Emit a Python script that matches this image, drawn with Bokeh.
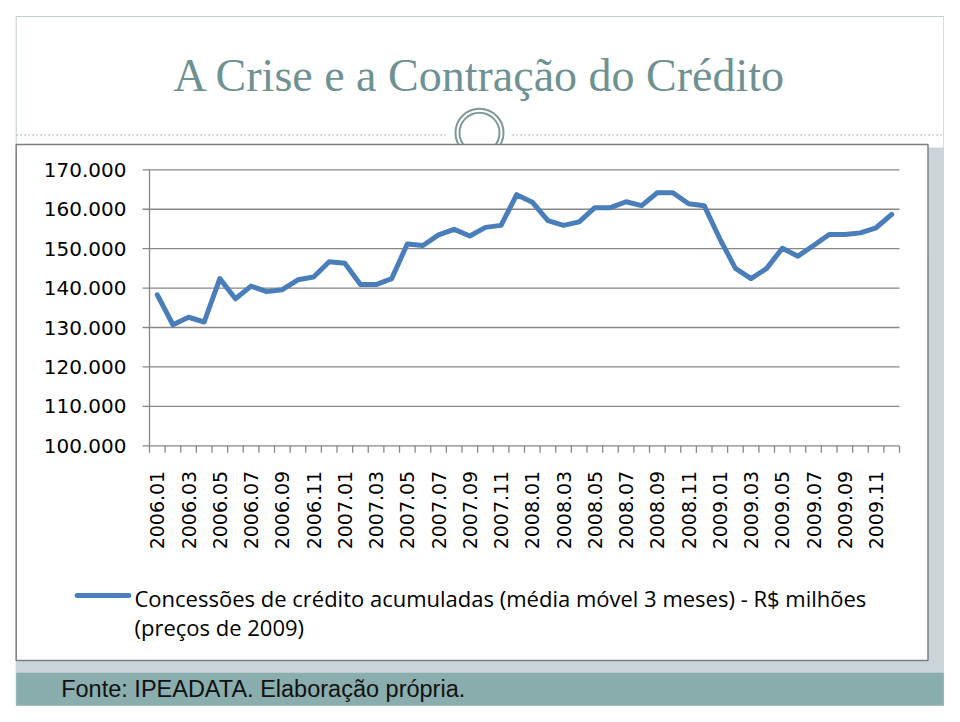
import math
from bokeh.plotting import figure
from bokeh.models import Range1d
from bokeh.core.properties import value
from bokeh.embed import file_html
from bokeh.resources import INLINE

# ---------------- data ----------------
months = [
    "2006.01", "2006.02", "2006.03", "2006.04", "2006.05", "2006.06",
    "2006.07", "2006.08", "2006.09", "2006.10", "2006.11", "2006.12",
    "2007.01", "2007.02", "2007.03", "2007.04", "2007.05", "2007.06",
    "2007.07", "2007.08", "2007.09", "2007.10", "2007.11", "2007.12",
    "2008.01", "2008.02", "2008.03", "2008.04", "2008.05", "2008.06",
    "2008.07", "2008.08", "2008.09", "2008.10", "2008.11", "2008.12",
    "2009.01", "2009.02", "2009.03", "2009.04", "2009.05", "2009.06",
    "2009.07", "2009.08", "2009.09", "2009.10", "2009.11", "2009.12",
]
credit = [
    138300, 130700, 132600, 131400, 142400, 137300,
    140500, 139100, 139600, 142100, 142800, 146700,
    146300, 140900, 140900, 142400, 151200, 150800,
    153500, 154900, 153200, 155400, 155900, 163700,
    161800, 157100, 155900, 156800, 160400, 160400,
    161900, 160900, 164200, 164200, 161400, 160900,
    152500, 145000, 142400, 145000, 150100, 148100,
    150800, 153600, 153600, 154000, 155300, 158700,
]
y_ticks = [100000, 110000, 120000, 130000, 140000, 150000, 160000, 170000]
y_tick_labels = ["100.000", "110.000", "120.000", "130.000",
                 "140.000", "150.000", "160.000", "170.000"]
title_text = "A Crise e a Contração do Crédito"
legend_line_1 = "Concessões de crédito acumuladas   (média móvel 3 meses) - R$ milhões"
legend_line_2 = "(preços de 2009)"
source_text = "Fonte: IPEADATA. Elaboração própria."

# ---------------- layout (canvas pixels) ----------------
W, H = 944, 706
CL, CR, CT, CB = 149, 899, 169.3, 445.3      # plot area of the chart
n = len(months)
ymin, ymax = y_ticks[0], y_ticks[-1]
ppx = (CR - CL) / n
ppy = (CB - CT) / (ymax - ymin)

p = figure(width=W, height=H, output_backend="svg", toolbar_location=None,
           x_axis_location=None, y_axis_location=None,
           x_range=Range1d(-CL / ppx, n + (W - CR) / ppx),
           y_range=Range1d(ymin - (H - CB) / ppy, ymax + CT / ppy),
           min_border=0)
p.min_border_left = p.min_border_right = p.min_border_top = p.min_border_bottom = 0
p.background_fill_color = "white"
p.border_fill_color = "white"
p.outline_line_color = None
for g in p.grid:
    g.visible = False
p.extra_x_ranges = {"px": Range1d(0, W)}
p.extra_y_ranges = {"py": Range1d(H, 0)}
PX = dict(x_range_name="px", y_range_name="py")

GRID = "#878787"
BLUE = "#4A7EBB"
RING = "#7D9A9A"

# ---------------- slide decorations ----------------
p.quad(left=[15.7], right=[943.3], top=[16], bottom=[705],
       fill_color="white", line_color="#C3CFCF", line_width=1, **PX)
p.segment(x0=[15.7, 511.7], x1=[446.7, 943.3], y0=[134.5, 134.5], y1=[134.5, 134.5],
          line_color="#A5B3B3", line_width=1, line_dash="2 2", **PX)
p.scatter(x=[479, 479], y=[132.3, 132.3], size=[48, 40], marker="circle",
          fill_color=None, line_color=RING, line_width=2, **PX)
p.quad(left=[15.7], right=[943.3], top=[147], bottom=[672],
       fill_color="#C9D5D9", line_color=None, **PX)
p.quad(left=[15.7], right=[927.5], top=[144], bottom=[660],
       fill_color="white", line_color="#7F7F7F", line_width=1.5, **PX)
p.quad(left=[15.7], right=[943.3], top=[672], bottom=[705],
       fill_color="#8AADAD", line_color=None, **PX)

# ---------------- chart ----------------
# horizontal gridlines
p.segment(x0=[0] * len(y_ticks), x1=[n] * len(y_ticks), y0=y_ticks, y1=y_ticks,
          line_color=GRID, line_width=1.3)
# y axis line + ticks + labels
p.segment(x0=[0], x1=[0], y0=[ymin], y1=[ymax], line_color=GRID, line_width=1.3)
p.ray(x=[0] * len(y_ticks), y=y_ticks, length=7, length_units="screen",
      angle=math.pi, line_color=GRID, line_width=1.3)
p.text(x=[0] * len(y_ticks), y=y_ticks, text=y_tick_labels, x_offset=-23,
       text_align="right", text_baseline="middle",
       text_font=value("DejaVu Sans"), text_font_size="20px", text_color="black")
# x axis ticks (category boundaries) + labels (every second month)
bounds = list(range(n + 1))
p.ray(x=bounds, y=[ymin] * len(bounds), length=7, length_units="screen",
      angle=-math.pi / 2, line_color=GRID, line_width=1.3)
lab_idx = list(range(0, n, 2))
p.text(x=[i + 0.5 for i in lab_idx], y=[ymin] * len(lab_idx),
       text=[months[i] for i in lab_idx], angle=math.pi / 2, y_offset=25,
       text_align="right", text_baseline="middle",
       text_font=value("DejaVu Sans"), text_font_size="19px", text_color="black")
# series
p.line([i + 0.5 for i in range(n)], credit, line_color=BLUE, line_width=5,
       line_join="round", line_cap="round")

# ---------------- texts ----------------
p.text(x=[479.5], y=[75], text=[title_text], text_align="center",
       text_baseline="middle", text_font=value("Liberation Serif"),
       text_font_size="46px", text_color="#6E9292", **PX)
p.segment(x0=[76.7], x1=[128.3], y0=[595], y1=[595], line_color=BLUE,
          line_width=5, line_cap="round", **PX)
p.text(x=[134, 134], y=[597.5, 626.5], text=[legend_line_1, legend_line_2],
       text_align="left", text_baseline="middle", text_font=value("Open Sans"),
       text_font_size="22px", text_color="black", **PX)
p.text(x=[60.7], y=[688.5], text=[source_text], text_align="left",
       text_baseline="middle", text_font=value("Liberation Sans"),
       text_font_size="23.5px", text_color="#111111", **PX)

open("out.html", "w").write(file_html(p, INLINE))
